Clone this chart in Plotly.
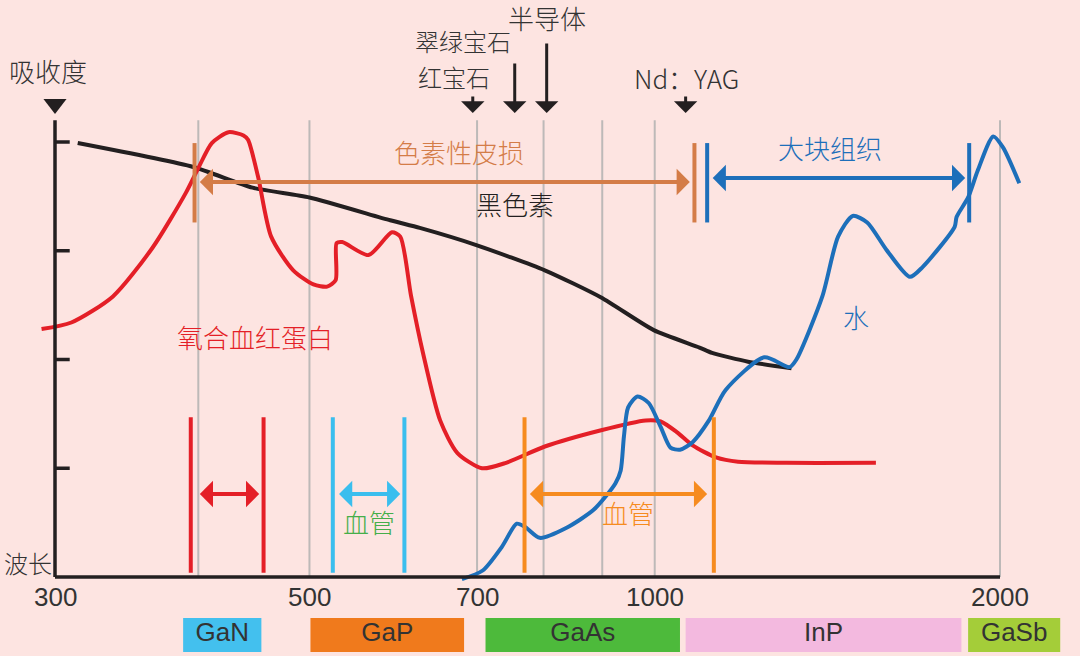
import math
import plotly.graph_objects as go

# ---------------- data (wavelength in nm, relative absorbance) ----------------
melanin_nm = [314, 396, 446, 500, 588, 624, 700, 802, 898, 998, 1094, 1122, 1206, 1316]
melanin_abs = [3.99, 3.77, 3.58, 3.49, 3.28, 3.21, 3.05, 2.82, 2.57, 2.27, 2.11, 2.06, 1.98, 1.92]

oxyhb_nm = [292, 310, 337, 365, 390, 400, 411, 425, 438, 442, 451, 463, 484, 504, 518, 527, 528,
            534, 563, 590, 600, 613, 628, 650, 673, 707, 742, 802, 898, 982, 1012, 1046, 1079,
            1131, 1182, 1303, 1559]
oxyhb_abs = [2.28, 2.34, 2.58, 3.03, 3.53, 3.76, 3.99, 4.09, 4.06, 4.02, 3.68, 3.13, 2.82, 2.69,
             2.67, 2.73, 3.07, 3.08, 2.96, 3.17, 3.13, 2.59, 2.06, 1.44, 1.14, 1.00, 1.05, 1.20,
             1.35, 1.44, 1.43, 1.33, 1.21, 1.10, 1.06, 1.05, 1.05]

water_nm = [679, 708, 736, 758, 771, 794, 837, 885, 924, 934, 940, 948, 966, 988, 1012, 1032,
            1052, 1079, 1115, 1153, 1246, 1311, 1329, 1400, 1445, 1488, 1532, 1592, 1669, 1712,
            1826, 1833, 1876, 1913, 1973, 2012, 2079]
water_abs = [-0.02, 0.06, 0.28, 0.49, 0.46, 0.36, 0.45, 0.62, 0.86, 0.98, 1.29, 1.56, 1.66, 1.60,
             1.38, 1.19, 1.17, 1.24, 1.44, 1.72, 2.02, 1.93, 2.00, 2.58, 3.13, 3.32, 3.26, 3.01,
             2.76, 2.85, 3.22, 3.31, 3.49, 3.74, 4.05, 3.95, 3.62]

grid_nm = [400, 500, 700, 800, 900, 1000, 2000]
tick_nm = [300, 500, 700, 1000, 2000]
abs_ticks = [1, 2, 3, 4]

laser_names = ["红宝石", "翠绿宝石", "半导体", "Nd：YAG"]
laser_nm = [694, 755, 805, 1064]

chip_names = ["GaN", "GaP", "GaAs", "InP", "GaSb"]
chip_start = [388, 501, 712, 1064, 1876]
chip_end = [454, 682, 1052, 1851, 2257]
chip_colors = ["#43C0EE", "#F07A1C", "#4DBA3B", "#F3B9DF", "#A4CD39"]

pigment_bars = [397, 1083]       # 色素性皮损
pigment_arrow = [400, 1073]
bulk_bars = [1111, 1880]         # 大块组织
bulk_arrow = [1120, 1865]
vessel_red_bars = [394, 456]
vessel_red_arrow = [400, 452]
vessel_cyan_bars = [524, 605]
vessel_cyan_arrow = [529, 600]
vessel_orange_bars = [770, 1126]
vessel_orange_arrow = [776, 1111]

# ---------------- styling ----------------
BG = "#FDE4E1"
INK = "#231F20"
TXT = "#333333"
RED = "#E41F27"
BLUE = "#1D6FBA"
BROWN = "#D47C47"
ORANGE = "#F68B1F"
CYAN = "#3ABEEE"
GREEN = "#45AE4A"
GRID = "#BDB9B8"
CJK = "Noto Sans CJK SC"
LAT = "Liberation Sans"

fig = go.Figure()


def seg(x, y, color, width):
    fig.add_trace(go.Scatter(x=x, y=y, mode="lines", hoverinfo="skip",
                             line=dict(color=color, width=width)))


# grid lines
for g in grid_nm:
    seg([g, g], [0, 4.2], GRID, 2)

# chip bands under the axis
for name, a, b, c in zip(chip_names, chip_start, chip_end, chip_colors):
    fig.add_trace(go.Scatter(x=[a, b, b, a, a], y=[-0.377, -0.377, -0.69, -0.69, -0.377],
                             mode="lines", fill="toself", fillcolor=c,
                             line=dict(width=0, color=c), hoverinfo="skip"))
    fig.add_trace(go.Scatter(x=[math.sqrt(a * b)], y=[-0.533], mode="text", text=[name],
                             textfont=dict(family=LAT, size=26, color=TXT), hoverinfo="skip"))

# curves
fig.add_trace(go.Scatter(x=melanin_nm, y=melanin_abs, mode="lines", hoverinfo="skip",
                         line=dict(color=INK, width=4, shape="spline", smoothing=0.6)))
fig.add_trace(go.Scatter(x=oxyhb_nm, y=oxyhb_abs, mode="lines", hoverinfo="skip",
                         line=dict(color=RED, width=4, shape="spline", smoothing=0.7)))
fig.add_trace(go.Scatter(x=water_nm, y=water_abs, mode="lines", hoverinfo="skip",
                         line=dict(color=BLUE, width=4, shape="spline", smoothing=0.7)))

# axes
seg([300, 300], [0, 4.2], INK, 3.5)
seg([300, 2000], [0, 0], INK, 3.5)
for t in abs_ticks:
    seg([300, 309], [t, t], INK, 3.5)
fig.add_trace(go.Scatter(x=[300], y=[4.35], mode="markers", hoverinfo="skip",
                         marker=dict(symbol="triangle-down", size=20, color=INK)))

# range bars
for x in pigment_bars:
    seg([x, x], [3.26, 3.99], BROWN, 4)
for x in bulk_bars:
    seg([x, x], [3.26, 3.99], BLUE, 4)
for bars, col in ((vessel_red_bars, RED), (vessel_cyan_bars, CYAN), (vessel_orange_bars, ORANGE)):
    for x in bars:
        seg([x, x], [0.04, 1.47], col, 4)


def harrow(rng, y, color, width=4, size=1.1):
    fig.add_annotation(x=math.log10(rng[1]), y=y, ax=math.log10(rng[0]), ay=y,
                       xref="x", yref="y", axref="x", ayref="y", text="", showarrow=True,
                       arrowhead=1, startarrowhead=1, arrowside="end+start",
                       arrowsize=size, startarrowsize=size, arrowwidth=width, arrowcolor=color)


harrow(pigment_arrow, 3.632, BROWN)
harrow(bulk_arrow, 3.669, BLUE)
harrow(vessel_red_arrow, 0.763, RED)
harrow(vessel_cyan_arrow, 0.763, CYAN)
harrow(vessel_orange_arrow, 0.763, ORANGE)

# laser arrows
laser_tails = [4.432, 4.736, 4.92, 4.432]
for nm, tail in zip(laser_nm, laser_tails):
    fig.add_annotation(x=math.log10(nm), y=4.267, ax=math.log10(nm), ay=tail,
                       xref="x", yref="y", axref="x", ayref="y", text="", showarrow=True,
                       arrowhead=1, arrowsize=1.3, arrowwidth=3, arrowcolor=INK)


def label(text, nm, y, color=TXT, family=CJK, size=26):
    fig.add_annotation(x=math.log10(nm), y=y, xref="x", yref="y", text=text, showarrow=False,
                       font=dict(family=family, size=size, color=color, weight=300),
                       xanchor="center", yanchor="middle")


label("半导体", 805, 5.149)
label("翠绿宝石", 680, 4.93, size=24)
label("红宝石", 668.5, 4.6, size=24)
label("Nd：YAG", 1065, 4.589)
label("吸收度", 295.6, 4.66)
label("波长", 284, 0.129, size=24)
label("色素性皮损", 675, 3.917, BROWN)
label("黑色素", 755, 3.439, INK)
label("大块组织", 1422, 3.945, BLUE)
label("氧合血红蛋白", 448, 2.207, RED)
label("水", 1499, 2.40, BLUE)
label("血管", 563, 0.506, GREEN)
label("血管", 948, 0.589, ORANGE)
for t in tick_nm:
    label(str(t), t, -0.184, TXT, LAT, 26)

fig.update_layout(
    width=1080, height=656, margin=dict(l=0, r=0, t=0, b=0),
    paper_bgcolor=BG, plot_bgcolor=BG, showlegend=False,
    xaxis=dict(type="log", range=[2.42917, 3.37078], visible=False, fixedrange=True),
    yaxis=dict(range=[-0.7264, 5.3057], visible=False, fixedrange=True),
)

fig.write_html("out.html", config={"displayModeBar": False},
               post_script="document.body.style.margin='0';")
